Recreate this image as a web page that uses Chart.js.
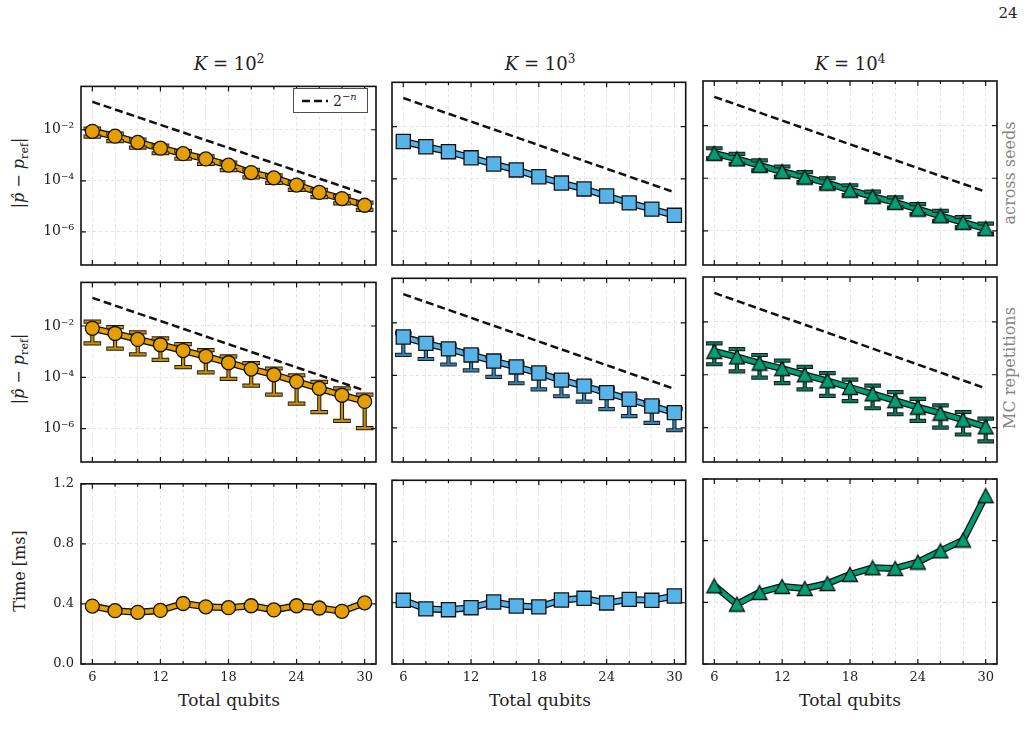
<!DOCTYPE html>
<html>
<head>
<meta charset="utf-8">
<script src="https://cdn.jsdelivr.net/npm/chart.js@4.4.0/dist/chart.umd.min.js"></script>
<style>
  body { margin: 0; background: #fff; width: 1028px; height: 742px; position: relative; overflow: hidden;
         font-family: "DejaVu Serif", serif; color: #222; }
  .pane { position: absolute; }
  .txt { position: absolute; white-space: nowrap; transform: translate(-50%, -50%); }
  .rot { transform: translate(-50%, -50%) rotate(-90deg); }
  .side { color: #858585; font-size: 16px; }
  .ttl { font-size: 18px; }
  .xl { font-size: 17px; }
  .yl { font-size: 16px; }
  #legend { position: absolute; left: 293px; top: 88px; width: 73px; height: 23px;
            border: 1.5px solid #4d4d4d; background: #fff; }
</style>
</head>
<body>
<div class="txt" style="left:1008px;top:13px;font-size:15px">24</div>

<div class="txt ttl" style="left:229px;top:63px"><i>K</i> = 10<sup style="font-size:12px">2</sup></div>
<div class="txt ttl" style="left:540px;top:63px"><i>K</i> = 10<sup style="font-size:12px">3</sup></div>
<div class="txt ttl" style="left:850px;top:63px"><i>K</i> = 10<sup style="font-size:12px">4</sup></div>

<div class="txt rot yl" style="left:20px;top:173px">|<i>p̂</i> − <i>p</i><sub style="font-size:11px">ref</sub>|</div>
<div class="txt rot yl" style="left:20px;top:369px">|<i>p̂</i> − <i>p</i><sub style="font-size:11px">ref</sub>|</div>
<div class="txt rot yl" style="left:19px;top:571px">Time [ms]</div>

<div class="txt rot side" style="left:1009px;top:173px">across seeds</div>
<div class="txt rot side" style="left:1009px;top:368px">MC repetitions</div>

<div class="txt xl" style="left:229px;top:700px">Total qubits</div>
<div class="txt xl" style="left:540px;top:700px">Total qubits</div>
<div class="txt xl" style="left:850px;top:700px">Total qubits</div>

<div id="legend">
  <svg width="30" height="23" style="position:absolute;left:6px;top:0">
    <line x1="2" y1="12" x2="28" y2="12" stroke="#111" stroke-width="2.6" stroke-dasharray="8 4"/>
  </svg>
  <span style="position:absolute;left:39px;top:2px;font-size:14px">2<sup style="font-size:10px">−<i>n</i></sup></span>
</div>

<script>
// ---------- data ----------
const qubits = [6, 8, 10, 12, 14, 16, 18, 20, 22, 24, 26, 28, 30];
const xTicks = [6, 12, 18, 24, 30];
const logTicks = [1e-6, 1e-4, 1e-2];
const logTickLabels = ['10⁻⁶', '10⁻⁴', '10⁻²'];
const timeTicks = [0, 0.4, 0.8, 1.2];

// dashed reference curve (legend "2^-n")
const refLine = [1.25e-1, 6.25e-2, 3.125e-2, 1.5625e-2, 7.81e-3, 3.91e-3, 1.95e-3, 9.77e-4, 4.88e-4, 2.44e-4, 1.22e-4, 6.10e-5, 3.05e-5];

// row 1: across seeds
const seedsK2 = [8.7e-3, 5.6e-3, 3.2e-3, 1.9e-3, 1.15e-3, 7.2e-4, 4.1e-4, 2.1e-4, 1.3e-4, 6.8e-5, 3.5e-5, 2.0e-5, 1.1e-5];
const seedsK2Lo = [5.4e-3, 3.6e-3, 2.0e-3, 1.2e-3, 7.3e-4, 4.6e-4, 2.6e-4, 1.35e-4, 8.3e-5, 4.4e-5, 2.3e-5, 1.3e-5, 7.2e-6];
const seedsK2Hi = [1.1e-2, 7.1e-3, 4.1e-3, 2.4e-3, 1.45e-3, 9.1e-4, 5.2e-4, 2.7e-4, 1.65e-4, 8.6e-5, 4.4e-5, 2.5e-5, 1.4e-5];
const seedsK3 = [2.7e-3, 1.7e-3, 1.1e-3, 6.4e-4, 3.7e-4, 2.2e-4, 1.2e-4, 6.9e-5, 4.1e-5, 2.2e-5, 1.2e-5, 6.9e-6, 4.0e-6];
const seedsK4 = [8.9e-4, 5.4e-4, 3.1e-4, 1.8e-4, 1.1e-4, 6.5e-5, 3.5e-5, 2.0e-5, 1.2e-5, 6.7e-6, 3.7e-6, 2.1e-6, 1.2e-6];
const seedsK4Lo = [5.7e-4, 3.5e-4, 2.0e-4, 1.16e-4, 7.1e-5, 4.2e-5, 2.26e-5, 1.3e-5, 7.7e-6, 4.3e-6, 2.4e-6, 1.35e-6, 7.7e-7];
const seedsK4Hi = [1.38e-3, 8.4e-4, 4.8e-4, 2.8e-4, 1.7e-4, 1.0e-4, 5.4e-5, 3.1e-5, 1.86e-5, 1.04e-5, 5.7e-6, 3.3e-6, 1.86e-6];

// row 2: MC repetitions
const mcK2 = [8.1e-3, 5.1e-3, 3.0e-3, 1.86e-3, 1.1e-3, 6.6e-4, 3.7e-4, 2.1e-4, 1.26e-4, 6.8e-5, 3.7e-5, 2.0e-5, 1.15e-5];
const mcK2Lo = [2.1e-3, 1.3e-3, 7.8e-4, 4.8e-4, 2.5e-4, 1.55e-4, 8.7e-5, 4.7e-5, 2.1e-5, 9.5e-6, 4.4e-6, 2.0e-6, 1.05e-6];
const mcK2Hi = [1.48e-2, 9.1e-3, 5.6e-3, 3.3e-3, 1.95e-3, 1.15e-3, 6.5e-4, 3.6e-4, 2.2e-4, 1.2e-4, 6.6e-5, 3.7e-5, 2.1e-5];
const mcK3 = [2.9e-3, 1.66e-3, 1.02e-3, 6.0e-4, 3.5e-4, 2.1e-4, 1.23e-4, 6.6e-5, 3.9e-5, 2.2e-5, 1.23e-5, 6.8e-6, 3.8e-6];
const mcK3Lo = [6.0e-4, 4.2e-4, 2.6e-4, 1.55e-4, 8.7e-5, 5.0e-5, 2.95e-5, 1.6e-5, 1.0e-5, 5.2e-6, 2.8e-6, 1.55e-6, 8.1e-7];
const mcK3Hi = [4.1e-3, 2.3e-3, 1.4e-3, 8.4e-4, 4.9e-4, 2.9e-4, 1.7e-4, 9.2e-5, 5.5e-5, 3.1e-5, 1.7e-5, 9.5e-6, 5.3e-6];
const mcK4 = [7.7e-4, 4.7e-4, 2.75e-4, 1.7e-4, 1.0e-4, 5.9e-5, 3.3e-5, 1.9e-5, 1.05e-5, 5.9e-6, 3.5e-6, 1.95e-6, 1.07e-6];
const mcK4Lo = [2.5e-4, 1.35e-4, 7.8e-5, 4.8e-5, 2.8e-5, 1.6e-5, 1.0e-5, 5.4e-6, 3.2e-6, 1.8e-6, 1.0e-6, 5.5e-7, 3.0e-7];
const mcK4Hi = [1.55e-3, 9.3e-4, 5.6e-4, 3.4e-4, 2.0e-4, 1.15e-4, 6.5e-5, 3.9e-5, 2.2e-5, 1.23e-5, 6.9e-6, 3.9e-6, 2.2e-6];

// row 3: time [ms]
const timeK2 = [0.386, 0.355, 0.344, 0.357, 0.403, 0.381, 0.375, 0.388, 0.360, 0.388, 0.373, 0.351, 0.407];
const timeK3 = [0.416, 0.360, 0.355, 0.368, 0.405, 0.379, 0.373, 0.418, 0.429, 0.399, 0.422, 0.416, 0.444];
const timeK4 = [0.507, 0.388, 0.464, 0.503, 0.490, 0.522, 0.581, 0.624, 0.620, 0.661, 0.734, 0.804, 1.092];

// ---------- style ----------
const FONT = '"DejaVu Serif", serif';
const ORANGE = '#E69F00', BLUE = '#56B4E9', GREEN = '#009E73';
const cols = [{ left: 81, w: 295 }, { left: 392, w: 295 }, { left: 703, w: 294 }];
const rows = [{ top: 81, h: 184 }, { top: 277, h: 185 }, { top: 479, h: 185 }];
const YAXIS_W = 60, XAXIS_H = 30, PAD = 10;

function triangleMarker(fill) {
  const c = document.createElement('canvas');
  c.width = 18; c.height = 17;
  const g = c.getContext('2d');
  g.beginPath();
  g.moveTo(9, 1.5); g.lineTo(16.5, 15.5); g.lineTo(1.5, 15.5); g.closePath();
  g.fillStyle = fill; g.fill();
  g.lineWidth = 1.3; g.strokeStyle = '#111'; g.stroke();
  return c;
}

// frame + inward ticks on all four sides
const frameTicks = {
  id: 'frameTicks',
  afterDraw(chart) {
    const { ctx, chartArea: a, scales: { x, y } } = chart;
    ctx.save();
    ctx.strokeStyle = '#111';
    ctx.lineWidth = 1.2;
    ctx.beginPath();
    x.ticks.forEach(t => {
      const px = x.getPixelForValue(t.value);
      const len = xTicks.includes(t.value) ? 5 : 3;
      ctx.moveTo(px, a.bottom); ctx.lineTo(px, a.bottom - len);
      ctx.moveTo(px, a.top); ctx.lineTo(px, a.top + len);
    });
    y.ticks.forEach(t => {
      const py = y.getPixelForValue(t.value);
      ctx.moveTo(a.left, py); ctx.lineTo(a.left + 5, py);
      ctx.moveTo(a.right, py); ctx.lineTo(a.right - 5, py);
    });
    ctx.stroke();
    ctx.lineWidth = 1.6;
    ctx.strokeRect(a.left, a.top, a.right - a.left, a.bottom - a.top);
    ctx.restore();
  }
};

// error bars drawn right after the coloured line, under the markers
const errorBars = {
  id: 'errorBars',
  afterDatasetDraw(chart, args) {
    const ds = chart.data.datasets[args.index];
    if (!ds.errLo) return;
    const { ctx, scales: { x, y } } = chart;
    ctx.save();
    qubits.forEach((n, i) => {
      const px = x.getPixelForValue(n);
      const top = y.getPixelForValue(ds.errHi[i]);
      const bot = y.getPixelForValue(ds.errLo[i]);
      [['#1a1a1a', 4.2, ds.capW + 1.6], [ds.errColor, 2.2, ds.capW]].forEach(([c, lw, cw]) => {
        ctx.strokeStyle = c; ctx.lineWidth = lw;
        ctx.beginPath();
        ctx.moveTo(px, top); ctx.lineTo(px, bot);
        ctx.moveTo(px - cw / 2, top); ctx.lineTo(px + cw / 2, top);
        ctx.moveTo(px - cw / 2, bot); ctx.lineTo(px + cw / 2, bot);
        ctx.stroke();
      });
    });
    ctx.restore();
  }
};

function pts(vals) { return qubits.map((n, i) => ({ x: n, y: vals[i] })); }

function makePanel(r, c, p) {
  const col = cols[c], row = rows[r];
  const W = col.w + YAXIS_W + PAD, H = row.h + PAD + XAXIS_H;
  const div = document.createElement('div');
  div.className = 'pane';
  div.style.left = (col.left - YAXIS_W) + 'px';
  div.style.top = (row.top - PAD) + 'px';
  const cv = document.createElement('canvas');
  cv.width = W; cv.height = H;
  cv.style.width = W + 'px'; cv.style.height = H + 'px';
  div.appendChild(cv);
  document.body.appendChild(div);

  const isLog = p.kind === 'log';
  const datasets = [
    { data: pts(p.vals), showLine: false, pointStyle: p.marker, pointRadius: p.radius,
      pointBackgroundColor: p.color, pointBorderColor: '#111', pointBorderWidth: 1.3, order: 0 },
    { data: pts(p.vals), borderColor: p.color, borderWidth: 4.4, pointRadius: 0,
      borderJoinStyle: 'round', order: 1,
      errLo: p.lo, errHi: p.hi, errColor: p.errColor, capW: p.capW },
    { data: pts(p.vals), borderColor: '#111', borderWidth: 7, pointRadius: 0,
      borderJoinStyle: 'round', order: 2 }
  ];
  if (isLog) {
    datasets.push({ data: pts(refLine), borderColor: '#111', borderWidth: 2.5, borderDash: [8, 4],
      pointRadius: 0, order: 3 });
  }

  new Chart(cv, {
    type: 'line',
    data: { datasets },
    plugins: [frameTicks, errorBars],
    options: {
      responsive: false,
      animation: false,
      events: [],
      layout: { padding: { top: PAD, right: PAD, left: 0, bottom: 0 } },
      plugins: { legend: { display: false }, tooltip: { enabled: false } },
      scales: {
        x: {
          type: 'linear', min: 5, max: 31, bounds: 'data',
          afterBuildTicks: s => { s.ticks = qubits.map(v => ({ value: v })); },
          afterFit: s => { s.height = XAXIS_H; },
          ticks: { display: r === 2, autoSkip: false, maxRotation: 0, padding: 6,
                   callback: v => xTicks.includes(v) ? String(v) : '',
                   color: '#222', font: { family: FONT, size: 13 } },
          grid: { color: '#dcdcdc', lineWidth: 0.8, drawTicks: false },
          border: { display: false, dash: [3, 3] }
        },
        y: isLog ? {
          type: 'logarithmic', min: 5e-8, max: 0.5, bounds: 'data',
          afterBuildTicks: s => { s.ticks = logTicks.map(v => ({ value: v })); },
          afterFit: s => { s.width = YAXIS_W; },
          ticks: { display: c === 0, autoSkip: false, padding: 7,
                   callback: v => logTickLabels[logTicks.indexOf(v)] || '',
                   color: '#222', font: { family: FONT, size: 14 } },
          grid: { color: '#dcdcdc', lineWidth: 0.8, drawTicks: false },
          border: { display: false, dash: [3, 3] }
        } : {
          type: 'linear', min: 0, max: 1.2, bounds: 'data',
          afterBuildTicks: s => { s.ticks = timeTicks.map(v => ({ value: v })); },
          afterFit: s => { s.width = YAXIS_W; },
          ticks: { display: c === 0, autoSkip: false, padding: 7,
                   callback: v => v.toFixed(1),
                   color: '#222', font: { family: FONT, size: 13 } },
          grid: { color: '#dcdcdc', lineWidth: 0.8, drawTicks: false },
          border: { display: false, dash: [3, 3] }
        }
      }
    }
  });
}

const circ = { marker: 'circle', radius: 7, color: ORANGE, errColor: '#c98b00', capW: 16 };
const sq = { marker: 'rect', radius: 10, color: BLUE, errColor: '#3583b3', capW: 15 };
const tri = { marker: triangleMarker(GREEN), radius: 8, color: GREEN, errColor: '#0b7a58', capW: 15 };

makePanel(0, 0, { ...circ, kind: 'log', vals: seedsK2, lo: seedsK2Lo, hi: seedsK2Hi });
makePanel(0, 1, { ...sq, kind: 'log', vals: seedsK3 });
makePanel(0, 2, { ...tri, kind: 'log', vals: seedsK4, lo: seedsK4Lo, hi: seedsK4Hi });
makePanel(1, 0, { ...circ, kind: 'log', vals: mcK2, lo: mcK2Lo, hi: mcK2Hi });
makePanel(1, 1, { ...sq, kind: 'log', vals: mcK3, lo: mcK3Lo, hi: mcK3Hi });
makePanel(1, 2, { ...tri, kind: 'log', vals: mcK4, lo: mcK4Lo, hi: mcK4Hi });
makePanel(2, 0, { ...circ, kind: 'lin', vals: timeK2 });
makePanel(2, 1, { ...sq, kind: 'lin', vals: timeK3 });
makePanel(2, 2, { ...tri, kind: 'lin', vals: timeK4 });

// legend box sits above the first canvas
document.body.appendChild(document.getElementById('legend'));
</script>
</body>
</html>
